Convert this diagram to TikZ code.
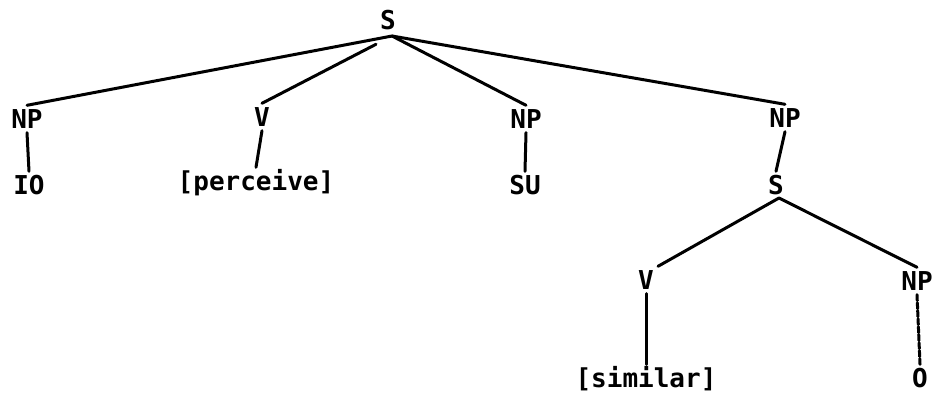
\documentclass[tikz,border=0pt]{standalone}
\usepackage{fontspec}
\setmonofont{DejaVu Sans Mono}
\begin{document}
\begin{tikzpicture}[x=1pt,y=-1pt,
  lab/.style={font=\ttfamily\bfseries\fontsize{26}{26}\selectfont, inner sep=4pt, text height=19pt, text depth=0pt},
  edge/.style={line width=3pt, line cap=round},
  brk/.style={edge, dash pattern=on 6pt off 2pt}]
\useasboundingbox (0,0) rectangle (934,393);
\node[lab] (S) at (388,20) {S};
\node[lab] (np1) at (27,119) {NP};
\node[lab] (v1) at (262,117) {V};
\node[lab] (np2) at (526,119) {NP};
\node[lab] (np3) at (785,118) {NP};
\node[lab] (io) at (29,185) {IO};
\node[lab] (perc) at (256,181) {[perceive]};
\node[lab] (su) at (525,185) {SU};
\node[lab] (S2) at (776,185) {S};
\node[lab] (v2) at (646,280) {V};
\node[lab] (np4) at (917,281) {NP};
\node[lab] (sim) at (646,378) {[similar]};
\node[lab] (o) at (920,378) {O};
\coordinate (top) at (392,36);
\coordinate (top2) at (779,198);
\draw[edge] (top) -- (np1.north);
\draw[edge, shorten <=18pt] (top) -- (v1.north);
\draw[edge] (top) -- (np2.north);
\draw[edge] (top) -- (np3.north);
\draw[edge] (np1.south) -- (io.north);
\draw[edge] (v1.south) -- (perc.north);
\draw[edge] (np2.south) -- (su.north);
\draw[edge] (np3.south) -- (S2.north);
\draw[edge] (top2) -- (v2.north east);
\draw[edge] (top2) -- (np4.north);
\draw[edge] (v2.south) -- (sim.north);
\draw[brk] (np4.south) -- (o.north);
\end{tikzpicture}
\end{document}
